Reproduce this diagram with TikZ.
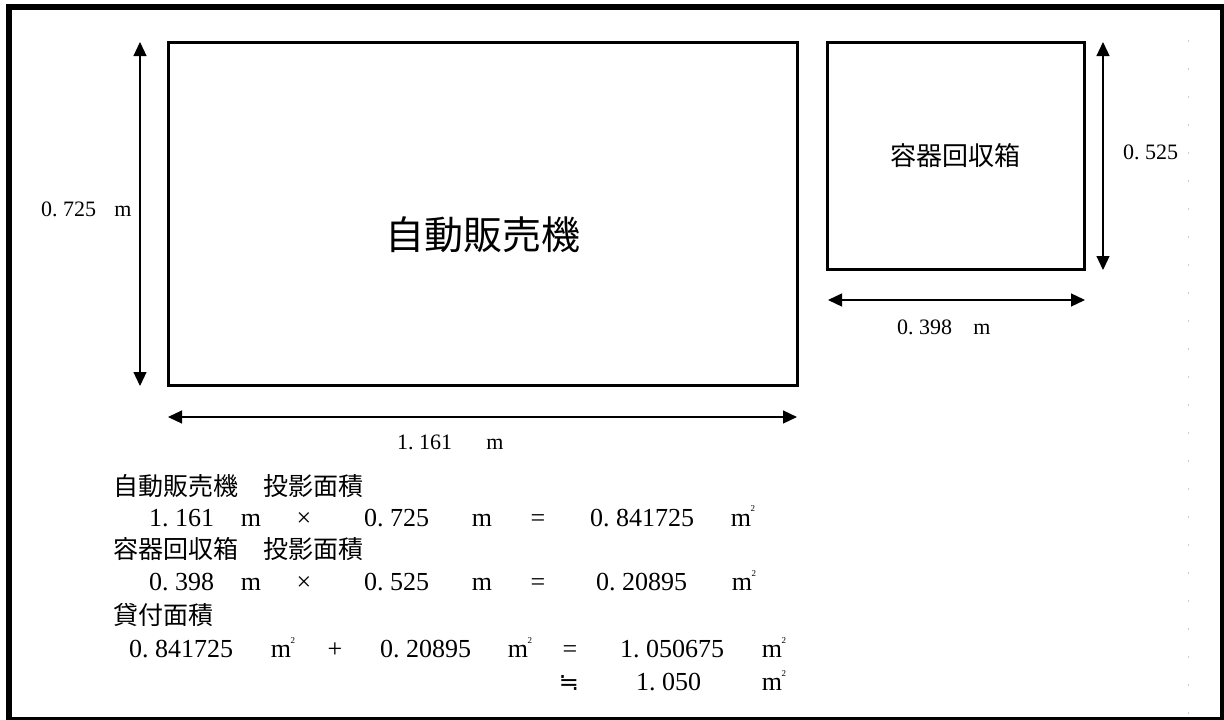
\documentclass[tikz,border=0pt]{standalone}
\usepackage{fontspec}
\setmainfont{Liberation Serif}
\newfontfamily\cjk{Noto Sans CJK JP}
\newfontfamily\symf{DejaVu Sans}
\usetikzlibrary{arrows.meta}
\newcommand\dn[2]{#1.\hspace{0.25em}#2}
\newcommand\sqm{m\kern-0.5pt\raisebox{0.55em}{\fontsize{9}{9}\selectfont 2}}
\tikzset{
  frame/.style={line width=6pt},
  box/.style={draw, line width=3pt, inner sep=0pt},
  dim/.style={line width=1.2pt, {Triangle[width=13pt,length=14pt]}-{Triangle[width=13pt,length=14pt]}},
  lbl/.style={inner sep=0pt, font=\fontsize{22}{26}\selectfont},
  eq/.style={inner sep=0pt, font=\fontsize{26}{30}\selectfont},
  eqj/.style={inner sep=0pt, font=\cjk\fontsize{25}{30}\selectfont},
  faint/.style={gray!40, line width=0.8pt, dash pattern=on 2pt off 26pt},
}
\begin{document}
\begin{tikzpicture}[x=1pt,y=-1pt]
\useasboundingbox (0,0) rectangle (1224,720);
\clip (0,0) rectangle (1224,720);
\fill[white] (0,0) rectangle (1224,720);
\draw[frame] (9,7) rectangle (1223,720);
\draw[faint] (1188,40) -- (1188,715);

% boxes
\node[box, minimum width=629pt, minimum height=343pt] (vm) at (482.5,213.5) {};
\node[inner sep=0pt, font=\cjk\fontsize{39}{44}\selectfont] (vmt) at (483,235) {自動販売機};
\node[box, minimum width=257pt, minimum height=227pt, font=\cjk\fontsize{26}{30}\selectfont] (rb) at (955.5,155.5) {容器回収箱};

% dimension arrows
\coordinate (l1) at (140,42); \coordinate (l2) at (140,386);
\draw[dim] (l1) -- (l2);
\coordinate (b1) at (168,417); \coordinate (b2) at (797,417);
\draw[dim] (b1) -- (b2);
\coordinate (r1) at (1103,42); \coordinate (r2) at (1103,270);
\draw[dim] (r1) -- (r2);
\coordinate (s1) at (828,300); \coordinate (s2) at (1085,300);
\draw[dim] (s1) -- (s2);

% dimension labels
\node[lbl, anchor=mid west] (t725) at (41,214) {\dn{0}{725}};
\node[lbl, anchor=mid] (t725m) at (123,214) {m};
\node[lbl, anchor=mid west] (t1161) at (397,447) {\dn{1}{161}};
\node[lbl, anchor=mid] (t1161m) at (495,447) {m};
\node[lbl, anchor=mid west] (t525) at (1123,157) {\dn{0}{525}};
\node[lbl, anchor=mid west] (t398) at (897,332) {\dn{0}{398}};
\node[lbl, anchor=mid] (t398m) at (982,332) {m};

% calculations
\node[eqj, anchor=mid west] (h1) at (113,493) {自動販売機　投影面積};
\node[eq, anchor=mid west] (a1) at (149,524) {\dn{1}{161}};
\node[eq, anchor=mid] (a2) at (251,524) {m};
\node[eq, anchor=mid] (a3) at (304,524) {×};
\node[eq, anchor=mid west] (a4) at (364,524) {\dn{0}{725}};
\node[eq, anchor=mid] (a5) at (482,524) {m};
\node[eq, anchor=mid] (a6) at (538,524) {=};
\node[eq, anchor=mid west] (a7) at (590,524) {\dn{0}{841725}};
\node[eq, anchor=mid] (a8) at (743,524) {\sqm};

\node[eqj, anchor=mid west] (h2) at (113,556) {容器回収箱　投影面積};
\node[eq, anchor=mid west] (b1t) at (149,588) {\dn{0}{398}};
\node[eq, anchor=mid] (b2t) at (251,588) {m};
\node[eq, anchor=mid] (b3t) at (304,588) {×};
\node[eq, anchor=mid west] (b4t) at (364,588) {\dn{0}{525}};
\node[eq, anchor=mid] (b5t) at (482,588) {m};
\node[eq, anchor=mid] (b6t) at (538,588) {=};
\node[eq, anchor=mid west] (b7t) at (596,588) {\dn{0}{20895}};
\node[eq, anchor=mid] (b8t) at (744,588) {\sqm};

\node[eqj, anchor=mid west] (h3) at (113,622) {貸付面積};
\node[eq, anchor=mid west] (c1) at (129,655) {\dn{0}{841725}};
\node[eq, anchor=mid] (c2) at (283,655) {\sqm};
\node[eq, anchor=mid] (c3) at (335,655) {+};
\node[eq, anchor=mid west] (c4) at (380,655) {\dn{0}{20895}};
\node[eq, anchor=mid] (c5) at (520,655) {\sqm};
\node[eq, anchor=mid] (c6) at (570,655) {=};
\node[eq, anchor=mid west] (c7) at (620,655) {\dn{1}{050675}};
\node[eq, anchor=mid] (c8) at (774,655) {\sqm};

\node[inner sep=0pt, font=\symf\fontsize{24}{28}\selectfont, anchor=mid] (d1) at (569,688) {≒};
\node[eq, anchor=mid west] (d2) at (636,688) {\dn{1}{050}};
\node[eq, anchor=mid] (d3) at (774,688) {\sqm};
\end{tikzpicture}
\end{document}
